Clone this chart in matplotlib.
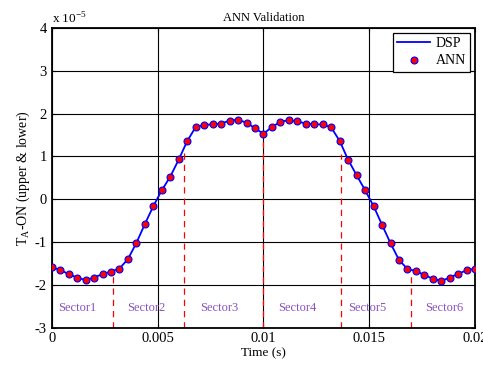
import numpy as np
import matplotlib
matplotlib.use("Agg")
import matplotlib.pyplot as plt

plt.rcParams['font.family'] = ['Liberation Serif', 'DejaVu Serif']
plt.rcParams['mathtext.fontset'] = 'custom'
plt.rcParams['mathtext.rm'] = 'Liberation Serif'

# sample times (s) and T_A-ON values (x 1e-5)
t = np.arange(51) * 0.0004
ta_on = [-1.59, -1.65, -1.75, -1.83, -1.89, -1.83, -1.75, -1.69, -1.62, -1.40,
         -1.02, -0.58, -0.16, 0.21, 0.53, 0.93, 1.36, 1.69, 1.74, 1.75,
         1.77, 1.84, 1.86, 1.79, 1.66, 1.53, 1.69, 1.81, 1.85, 1.82,
         1.77, 1.75, 1.75, 1.68, 1.36, 0.92, 0.56, 0.21, -0.16, -0.60,
         -1.03, -1.42, -1.63, -1.68, -1.77, -1.86, -1.91, -1.83, -1.74, -1.66,
         -1.62]

# sector boundaries and the height where each dashed line stops
bound_t = [0.0029, 0.00625, 0.01, 0.01365, 0.01695]
bound_top = [-1.74, 1.16, 1.55, 1.05, -1.72]

sector_names = ['Sector1', 'Sector2', 'Sector3', 'Sector4', 'Sector5', 'Sector6']
sector_x = [0.0012, 0.00446, 0.0079, 0.0116, 0.0149, 0.01853]
sector_y = -2.55

scale = 1e-5
y = np.array(ta_on) * scale

fig = plt.figure(figsize=(4.83, 3.66), dpi=100)
ax = fig.add_axes([0.107, 0.105, 0.877, 0.818])

ax.plot(t, y, '-', color='blue', lw=1.3, label='DSP', zorder=3)
ax.plot(t, y, 'o', mfc='red', mec='blue', mew=0.8, ms=5, label='ANN', zorder=4)

for bt, top in zip(bound_t, bound_top):
    ax.plot([bt, bt], [-3 * scale, top * scale], '--', color='red', lw=0.9,
            dashes=(5, 4), zorder=2)

for name, sx in zip(sector_names, sector_x):
    ax.text(sx, sector_y * scale, name, color='#8a4fc4', fontsize=9,
            ha='center', va='center')

ax.set_xlim(0, 0.02)
ax.set_ylim(-3e-5, 4e-5)
ax.set_xticks([0, 0.005, 0.01, 0.015, 0.02])
ax.set_xticklabels(['0', '0.005', '0.01', '0.015', '0.02'])
ax.set_yticks(np.arange(-3, 5) * scale)
ax.set_yticklabels([str(v) for v in range(-3, 5)])
ax.grid(True, color='black', lw=0.8, ls='-')
ax.set_axisbelow(True)
ax.tick_params(direction='in', labelsize=10.5, length=3, top=True, right=True)
for s in ax.spines.values():
    s.set_linewidth(1.3)

ax.text(0.0, 1.005, r'x 10$^{-5}$', transform=ax.transAxes, fontsize=9.5,
        ha='left', va='bottom')
ax.set_title('ANN Validation', fontsize=9, pad=5)
ax.set_xlabel('Time (s)', fontsize=9.5, labelpad=1)
ax.set_ylabel(r'T$_\mathrm{A}$-ON (upper & lower)', fontsize=10, labelpad=2)

leg = ax.legend(loc='upper right', fontsize=10, frameon=True, fancybox=False,
                edgecolor='black', framealpha=1, borderpad=0.3,
                handlelength=2.4, handletextpad=0.4, labelspacing=0.3,
                borderaxespad=0.35)
leg.get_frame().set_linewidth(0.9)

fig.savefig('out.png', dpi=100)
